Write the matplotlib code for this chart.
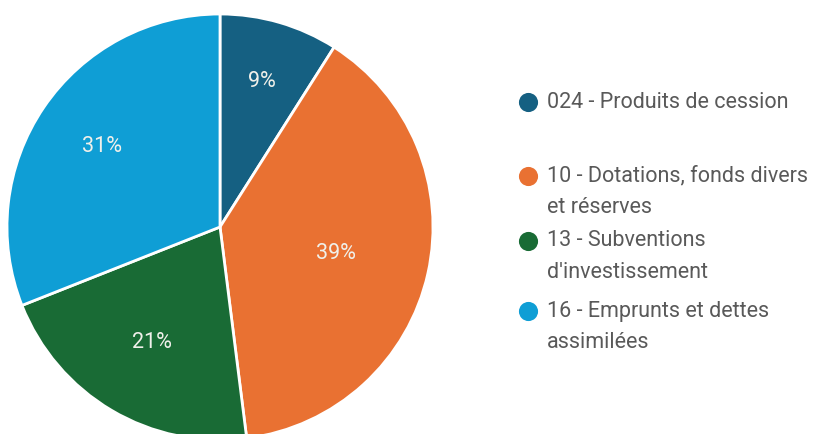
import numpy as np
import matplotlib.pyplot as plt

labels = ["024 - Produits de cession",
          "10 - Dotations, fonds divers\net réserves",
          "13 - Subventions\nd'investissement",
          "16 - Emprunts et dettes\nassimilées"]
shares = [9, 39, 21, 31]
colors = ["#156082", "#e97132", "#196b35", "#0f9ed5"]

plt.rcParams['font.family'] = ['Roboto', 'DejaVu Sans']

W, H = 822, 434
fig = plt.figure(figsize=(W / 100, H / 100), dpi=100)

# pie axes placed in pixels: centre (220, 227), radius 213
cx, cy, r = 220, 227, 213
ax = fig.add_axes([(cx - r) / W, (H - cy - r) / H, 2 * r / W, 2 * r / H])
wedges, texts, autotexts = ax.pie(
    shares, colors=colors, startangle=90, counterclock=False,
    autopct=lambda p: f"{p:.0f}%", pctdistance=0.65, radius=1,
    wedgeprops=dict(edgecolor="white", linewidth=2),
    textprops=dict(color="#f0f0ea", fontsize=15.5))
ax.set_xlim(-1, 1)
ax.set_ylim(-1, 1)
ax.axis('off')

# label distances as placed in the original (best fit)
label_dist = [0.71, 0.56, 0.63, 0.67]
for w, t, d in zip(wedges, autotexts, label_dist):
    a = np.deg2rad((w.theta1 + w.theta2) / 2)
    t.set_position((d * np.cos(a), d * np.sin(a)))

# legend drawn by hand, to keep the uneven spacing of the original
lg = fig.add_axes([0, 0, 1, 1])
lg.set_xlim(0, W)
lg.set_ylim(H, 0)
lg.axis('off')
rows = [102, 176, 241, 311]
step = 31.5
for lab, col, y in zip(labels, colors, rows):
    lg.scatter([528], [y], s=190, color=col, zorder=3, linewidths=0)
    for i, line in enumerate(lab.split("\n")):
        lg.text(547, y + i * step, line, fontsize=15.5, color="#595959",
                va="center")

fig.savefig("out.png", dpi=100)
